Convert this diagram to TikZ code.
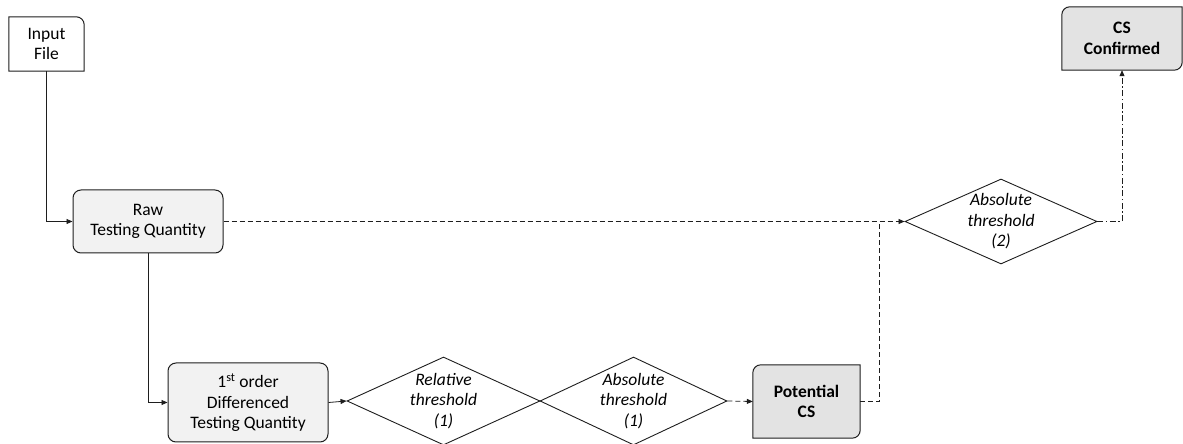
\documentclass[tikz,border=0pt]{standalone}
\usepackage{fontspec}
\setmainfont{Carlito}
\usetikzlibrary{shapes.geometric,arrows.meta,backgrounds}
\definecolor{boxgray}{HTML}{F2F2F2}
\definecolor{csgray}{HTML}{E3E3E3}
\definecolor{ink}{HTML}{1E1E1E}

\begin{document}
\begin{tikzpicture}[x=1pt, y=1pt,
  font=\fontsize{17.5}{20.5}\selectfont,
  >={Triangle[length=6pt,width=5pt]},
  plainbox/.style = {shape=rectangle, inner sep=0pt, align=center},
  quantity/.style = {plainbox, rounded corners=8pt, draw=ink,
    line width=1pt, fill=boxgray},
  outline/.style = {draw=ink, line width=1pt},
  decision/.style = {shape=diamond, draw=ink, line width=0.9pt,
    fill=white, inner sep=0pt, minimum height=88pt},
  threshold/.style = {font=\fontsize{17.5}{20.5}\selectfont\itshape,
    align=center, inner sep=0pt},
  flow/.style = {draw=ink, line width=0.8pt},
  weakflow/.style = {flow, dash pattern=on 5pt off 3pt},
  finalflow/.style = {flow, dash pattern=on 6pt off 2.5pt on 1.5pt off 2.5pt}]
  \useasboundingbox (0,0) rectangle (1183,444);

  \node[plainbox, minimum width=75pt, minimum height=54pt] (input) at (46.5,400) {Input\\File};
  \node[quantity, minimum width=150pt, minimum height=63pt] (raw) at (148,222.5) {Raw\\Testing Quantity};
  \node[quantity, minimum width=160pt, minimum height=79pt] (diff) at (248,41.5)
    {1\textsuperscript{st} order\\Differenced\\Testing Quantity};
  \node[decision, minimum width=193pt,
    label={[threshold]center:{Relative\\threshold\\(1)}}] (rel) at (443.5,43) {};
  \node[decision, minimum width=187pt,
    label={[threshold]center:{Absolute\\threshold\\(1)}}] (abs1) at (633.5,43) {};
  \node[plainbox, minimum width=107pt, minimum height=73pt, font=\fontsize{17.5}{20.5}\selectfont\bfseries]
    (potential) at (806.5,42.5) {Potential\\CS};
  \node[decision, minimum width=192pt, minimum height=85pt,
    label={[threshold]center:{Absolute\\threshold\\(2)}}] (abs2) at (1001,222.5) {};
  \node[plainbox, minimum width=120pt, minimum height=63pt, font=\fontsize{17.5}{20.5}\selectfont\bfseries]
    (confirmed) at (1122,405.5) {CS\\Confirmed};
  \coordinate (merge) at ([xshift=-25pt]abs2.west);

  \begin{scope}[on background layer]
    \draw[outline, fill=white] (input.south west) -- (input.north west)
      -- ([xshift=-8pt]input.north east) arc[start angle=90, end angle=0, radius=8pt]
      -- (input.south east) -- cycle;
    \draw[outline, fill=csgray] ([yshift=-8pt]potential.north west)
      arc[start angle=180, end angle=90, radius=8pt] -- (potential.north east)
      -- ([yshift=8pt]potential.south east) arc[start angle=0, end angle=-90, radius=8pt]
      -- (potential.south west) -- cycle;
    \draw[outline, fill=csgray] ([yshift=-8pt]confirmed.north west)
      arc[start angle=180, end angle=90, radius=8pt] -- (confirmed.north east)
      -- ([yshift=8pt]confirmed.south east) arc[start angle=0, end angle=-90, radius=8pt]
      -- (confirmed.south west) -- cycle;
  \end{scope}

  \draw[flow, ->] (input.south) |- (raw.west);
  \draw[flow, ->] (raw.south) |- (diff.west);
  \draw[flow, ->] (diff.east) -- (rel.west);
  \draw[weakflow, ->] (abs1.east) -- (potential.west);
  \draw[weakflow, ->] (raw.east) -- (abs2.west);
  \draw[weakflow] (potential.east) -| (merge);
  \draw[finalflow, ->] (abs2.east) -| (confirmed.south);
\end{tikzpicture}
\end{document}
